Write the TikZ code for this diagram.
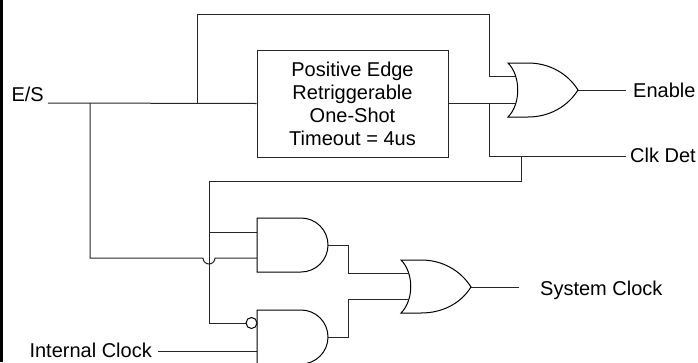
\documentclass[tikz,border=0pt]{standalone}
\usepackage{fontspec}
\setmainfont{Liberation Sans}
\begin{document}
\begin{tikzpicture}[x=1pt,y=-1pt,
  wire/.style={line width=1pt,draw=black!85},
  gate/.style={line width=1pt,draw=black,fill=white},
  lbl/.style={inner sep=0pt,font=\fontsize{20}{23}\selectfont},
  boxnode/.style={draw=black!85,line width=1pt,minimum width=191pt,minimum height=107pt,align=center,inner sep=0pt,font=\fontsize{20}{23}\selectfont}]
\useasboundingbox (0,0) rectangle (698,362);
\fill[black] (0,0) rectangle (3,362);

% box
\node[boxnode] (box) at (352.5,103.5) {Positive Edge\\Retriggerable\\One-Shot\\Timeout = 4us};

% pins
\coordinate (or1a) at (516,76);
\coordinate (or1b) at (517,103);
\coordinate (or1o) at (578,90);
\coordinate (or2a) at (409,273);
\coordinate (or2b) at (409,299);
\coordinate (or2o) at (471,287);
\coordinate (and1a) at (257,232);
\coordinate (and1b) at (257,258);
\coordinate (and1o) at (328,245);
\coordinate (and2c) at (257,351);
\coordinate (and2o) at (328,337);

% labels
\node[lbl,anchor=base east] (es) at (44,101) {E/S};
\node[lbl,anchor=base west] (en) at (633,97) {Enable};
\node[lbl,anchor=base west] (cd) at (630,162) {Clk Det};
\node[lbl,anchor=base west] (sc) at (540,295) {System Clock};
\node[lbl,anchor=base east] (ic) at (152,357) {Internal Clock};

% junctions
\coordinate (j1) at (90,103);
\coordinate (j2) at (197,103);
\coordinate (j3) at (489,103);
\coordinate (j4) at (489,156);
\coordinate (j5) at (521,156);
\coordinate (j6) at (209,232);
\coordinate (cdend) at (626,156);
\coordinate (enend) at (626,90);
\coordinate (scend) at (519,287);

% wires
\draw[wire] (48,103) -- (box.west);
\draw[wire] (j2) |- (489,14) |- (or1a);
\draw[wire] (box.east |- or1b) -- (or1b);
\draw[wire] (j3) -- (j4) -- (cdend);
\draw[wire] (or1o) -- (enend);
\draw[wire] (j5) |- (209,181) -- (209,323) -- (246,323);
\draw[wire] (j6) -- (and1a);
\draw[wire] (j1) |- (203,258) arc (180:0:6) -- (and1b);
\draw[wire] (and1o) -| (348,273) -- (or2a);
\draw[wire] (and2o) -| (348,299) -- (or2b);
\draw[wire] (or2o) -- (scend);
\draw[wire] (158,351) -- (and2c);

% gate shapes
\draw[gate] (508,63) -- (528,63) .. controls (550,63) and (568,74) .. (578,90)
  .. controls (568,106) and (550,117) .. (528,117) -- (508,117)
  .. controls (521,104) and (521,76) .. (508,63) -- cycle;
\draw[gate] (401,260) -- (421,260) .. controls (443,260) and (461,271) .. (471,287)
  .. controls (461,303) and (443,313) .. (421,313) -- (401,313)
  .. controls (414,300) and (414,273) .. (401,260) -- cycle;
\draw[gate] (257,218) -- (301,218) arc (-90:90:27) -- (257,272) -- cycle;
\draw[gate] (257,310) -- (301,310) arc (-90:90:27) -- (257,364) -- cycle;
\node[draw=black,fill=white,line width=1pt,circle,minimum size=11pt,inner sep=0pt] (bub) at (251.5,323) {};
\end{tikzpicture}
\end{document}
